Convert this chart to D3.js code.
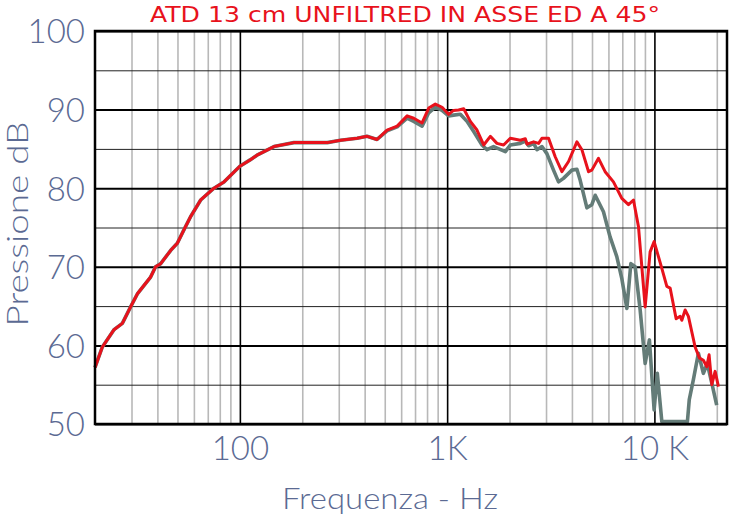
<!DOCTYPE html>
<html>
<head>
<meta charset="utf-8">
<script src="https://cdn.jsdelivr.net/npm/d3@7"></script>
<style>
  html, body { margin: 0; padding: 0; background: #fff; }
  svg { display: block; }
</style>
</head>
<body>
<svg id="chart" width="730" height="517"></svg>
<script>
// ---- data ----
const titleText = "ATD 13 cm UNFILTRED IN ASSE ED A 45°";
const xLabel = "Frequenza - Hz";
const yLabel = "Pressione dB";

const xTickValues = [100, 1000, 10000];
const xTickLabels = ["100", "1K", "10 K"];
const xMinorGrid = [30, 40, 50, 60, 70, 80, 90, 200, 300, 400, 500, 600, 700, 800, 900,
                    2000, 3000, 4000, 5000, 6000, 7000, 8000, 9000, 20000];
const yTickValues = [50, 60, 70, 80, 90, 100];
const yMinorGrid = [55, 65, 75, 85, 95];

const freqRed = [20, 21.7, 24.7, 27.1, 29.7, 32.1, 37.1, 39.2, 41.5, 46.4, 49.9, 53.7, 57.9, 64.7, 75, 83.8,
  100, 112, 121, 146, 182, 264, 306, 368, 411, 459, 513, 574, 641, 690, 757, 815, 877, 945,
  1016, 1074, 1135, 1202, 1294, 1393, 1501, 1616, 1739, 1872, 2017, 2254, 2383, 2427, 2614, 2763,
  2866, 3086, 3322, 3578, 3853, 4227, 4468, 4811, 4990, 5373, 5785, 6345, 6963, 7497, 7925, 8379,
  9024, 9535, 9970, 10860, 11480, 11910, 12730, 13310, 13560, 14070, 14590, 15720, 16490, 17230,
  17890, 18360, 18920, 19630, 20370];
const dbRed = [57.2, 59.8, 62.0, 62.8, 64.9, 66.6, 68.7, 70.0, 70.4, 72.1, 73.0, 74.7, 76.4, 78.5, 80.0, 80.8,
  82.8, 83.6, 84.2, 85.3, 85.8, 85.8, 86.1, 86.35, 86.6, 86.2, 87.4, 87.9, 89.2, 88.9, 88.3, 90.2, 90.7, 90.3,
  89.4, 89.9, 89.95, 90.1, 88.5, 87.4, 85.5, 86.6, 85.7, 85.5, 86.35, 86.1, 86.3, 85.6, 85.9, 85.7,
  86.35, 86.35, 84.0, 82.1, 83.4, 85.9, 84.9, 82.1, 82.3, 83.8, 82.1, 80.8, 78.7, 77.9, 78.5, 75.1,
  64.9, 71.9, 73.2, 69.8, 67.5, 67.3, 63.4, 63.7, 63.2, 64.5, 63.7, 59.8, 58.4, 58.1,
  57.3, 58.8, 55.0, 56.7, 54.75];

const freqGray = [20, 21.7, 24.7, 27.1, 29.7, 32.1, 37.1, 39.2, 41.5, 46.4, 49.9, 53.7, 57.9, 64.7, 75, 83.8,
  100, 112, 121, 146, 182, 264, 306, 368, 411, 459, 513, 574, 641, 690, 757, 815, 877, 945,
  1016, 1074, 1158, 1247, 1343, 1473, 1557, 1675, 1909, 2017, 2254, 2383, 2471, 2614, 2712, 2866,
  3029, 3260, 3447, 3641, 3999, 4227, 4385, 4724, 4990, 5180, 5678, 6112, 6585, 6963, 7365, 7697,
  8074, 8537, 9024, 9461, 9970, 10330, 10860, 14430, 14730, 15410, 16300, 17230, 17990, 18920, 19980];
const dbGray = [57.2, 59.8, 62.0, 62.8, 64.9, 66.6, 68.7, 70.0, 70.4, 72.1, 73.0, 74.7, 76.4, 78.5, 80.0, 80.8,
  82.8, 83.6, 84.2, 85.3, 85.8, 85.8, 86.1, 86.35, 86.6, 86.2, 87.3, 87.8, 88.9, 88.5, 87.9, 89.6, 90.3, 89.9,
  89.2, 89.3, 89.4, 88.5, 87.2, 85.5, 84.9, 85.3, 84.65, 85.5, 85.7, 86.0, 85.4, 85.7, 84.9, 85.3,
  84.4, 82.3, 80.8, 81.25, 82.3, 82.4, 81.0, 77.5, 77.9, 79.1, 77.0, 73.8, 71.3, 68.5, 64.7, 70.4,
  70.0, 64.5, 57.7, 60.7, 51.8, 56.45, 50.3, 50.3, 53.1, 55.6, 59.0, 56.45, 57.7, 55.2, 52.4];

// ---- layout ----
const svg = d3.select("#chart");
const L = 95, R = 727, T = 31, B = 424;
const labelColor = "#5b6a93";
const fontFam = "Lato, 'Open Sans', 'DejaVu Sans', sans-serif";
const fontW = 300;

const x = d3.scaleLog().domain([20, 22400]).range([L, R]);
const y = d3.scaleLinear().domain([50, 100]).range([B, T]);

// minor vertical grid
svg.append("g")
  .attr("transform", `translate(0,${B})`)
  .call(d3.axisBottom(x).tickValues(xMinorGrid).tickSize(-(B - T)).tickFormat(""))
  .call(g => g.select(".domain").remove())
  .call(g => g.selectAll("line").attr("stroke", "#b8b8b8").attr("stroke-width", 1.6));

// minor horizontal grid
svg.append("g")
  .attr("transform", `translate(${L},0)`)
  .call(d3.axisLeft(y).tickValues(yMinorGrid).tickSize(-(R - L)).tickFormat(""))
  .call(g => g.select(".domain").remove())
  .call(g => g.selectAll("line").attr("stroke", "#222").attr("stroke-width", 1));

// major horizontal grid
svg.append("g")
  .attr("transform", `translate(${L},0)`)
  .call(d3.axisLeft(y).tickValues(yTickValues).tickSize(-(R - L)).tickFormat(""))
  .call(g => g.select(".domain").remove())
  .call(g => g.selectAll("line").attr("stroke", "#000").attr("stroke-width", 2));

// major vertical grid (decades)
svg.append("g")
  .attr("transform", `translate(0,${B})`)
  .call(d3.axisBottom(x).tickValues(xTickValues).tickSize(-(B - T)).tickFormat(""))
  .call(g => g.select(".domain").remove())
  .call(g => g.selectAll("line").attr("stroke", "#000").attr("stroke-width", 1.6));

// curves
const lineGen = d3.line().x(d => x(d[0])).y(d => y(d[1]));
const grayData = freqGray.map((f, i) => [f, dbGray[i]]);
const redData = freqRed.map((f, i) => [f, dbRed[i]]);

svg.append("path").datum(grayData)
  .attr("d", lineGen).attr("fill", "none")
  .attr("stroke", "#647c78").attr("stroke-width", 3.6).attr("stroke-linejoin", "round");
svg.append("path").datum(redData)
  .attr("d", lineGen).attr("fill", "none")
  .attr("stroke", "#e8121c").attr("stroke-width", 3).attr("stroke-linejoin", "round");

// frame
svg.append("rect")
  .attr("x", L).attr("y", T).attr("width", R - L).attr("height", B - T)
  .attr("fill", "none").attr("stroke", "#000").attr("stroke-width", 2.5);

// y tick labels
svg.append("g")
  .attr("transform", `translate(${L},0)`)
  .call(d3.axisLeft(y).tickValues(yTickValues).tickSize(0).tickPadding(10).tickFormat(d3.format("d")))
  .call(g => g.select(".domain").remove())
  .call(g => g.selectAll("text")
    .attr("fill", labelColor).attr("font-family", fontFam).attr("font-weight", fontW)
    .attr("font-size", 33).attr("dy", "0.36em"));

// x tick labels
svg.append("g")
  .attr("transform", `translate(0,${B})`)
  .call(d3.axisBottom(x).tickValues(xTickValues).tickSize(0).tickPadding(13)
    .tickFormat((d, i) => xTickLabels[i]))
  .call(g => g.select(".domain").remove())
  .call(g => g.selectAll("text")
    .attr("fill", labelColor).attr("font-family", fontFam).attr("font-weight", fontW)
    .attr("font-size", 33));

// axis titles
svg.append("text")
  .attr("x", 390).attr("y", 509)
  .attr("text-anchor", "middle")
  .attr("fill", labelColor).attr("font-family", fontFam).attr("font-weight", fontW)
  .attr("font-size", 30)
  .attr("textLength", 216).attr("lengthAdjust", "spacingAndGlyphs")
  .text(xLabel);

svg.append("text")
  .attr("transform", "translate(28,224) rotate(-90)")
  .attr("text-anchor", "middle")
  .attr("fill", labelColor).attr("font-family", fontFam).attr("font-weight", fontW)
  .attr("font-size", 29)
  .attr("textLength", 205).attr("lengthAdjust", "spacingAndGlyphs")
  .text(yLabel);

// title
svg.append("text")
  .attr("x", 150).attr("y", 22)
  .attr("fill", "#e8121c")
  .attr("font-family", "'DejaVu Sans', sans-serif")
  .attr("font-size", 21)
  .attr("textLength", 510).attr("lengthAdjust", "spacingAndGlyphs")
  .text(titleText);
</script>
</body>
</html>
